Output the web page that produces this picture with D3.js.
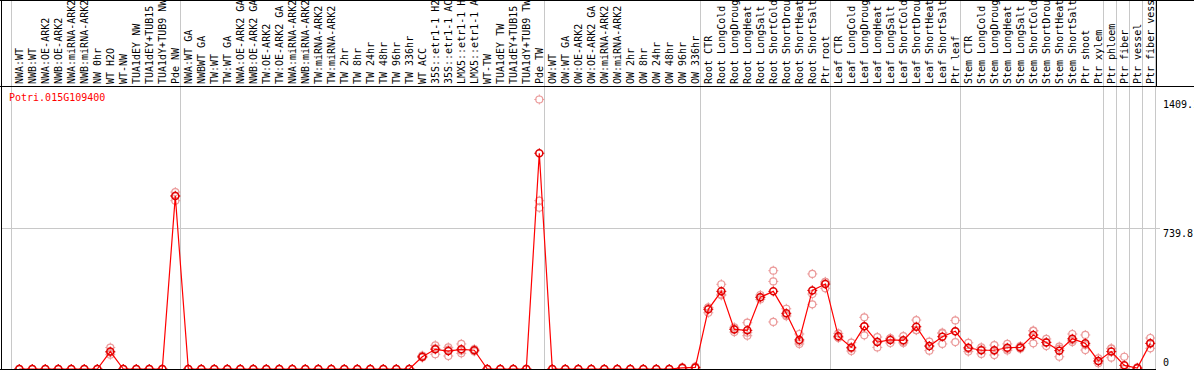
<!DOCTYPE html>
<html>
<head>
<meta charset="utf-8">
<script src="https://cdn.jsdelivr.net/npm/d3@7"></script>
<style>
	body { margin: 0; background: #fff; overflow: hidden; }
	text { font-family: "DejaVu Sans Mono", monospace; font-size: 10px; }
</style>
</head>
<body>
<div id="dataviz"></div>
<script>
const geneName = 'Potri.015G109400';

const categories = [
	'NWA:WT', 'NWB:WT', 'NWA:OE-ARK2', 'NWB:OE-ARK2', 'NWA:miRNA-ARK2', 'NWB:miRNA-ARK2',
	'NW 0hr', 'WT H2O', 'WT-NW', 'TUA1dEY NW', 'TUA1dEY+TUB15', 'TUA1dY+TUB9 NW', 'Pde NW',
	'NWA:WT GA', 'NWBWT GA', 'TW:WT', 'TW:WT GA', 'NWA:OE-ARK2 GA', 'NWB:OE-ARK2 GA',
	'TW:OE-ARK2', 'TW:OE-ARK2 GA', 'NWA:miRNA-ARK2', 'NWB:miRNA-ARK2', 'TW:miRNA-ARK2', 'TW:miRNA-ARK2',
	'TW 2hr', 'TW 8hr', 'TW 24hr', 'TW 48hr', 'TW 96hr', 'TW 336hr', 'WT ACC',
	'35S::etr1-1 H2', '35S::etr1-1 AC', 'LMX5::etr1-1 H', 'LMX5::etr1-1 A', 'WT-TW',
	'TUA1dEY TW', 'TUA1dEY+TUB15', 'TUA1dY+TUB9 TW', 'Pde TW',
	'OW:WT', 'OW:WT GA', 'OW:OE-ARK2', 'OW:OE-ARK2 GA', 'OW:miRNA-ARK2', 'OW:miRNA-ARK2',
	'OW 2hr', 'OW 8hr', 'OW 24hr', 'OW 48hr', 'OW 96hr', 'OW 336hr',
	'Root CTR', 'Root LongCold', 'Root LongDroug', 'Root LongHeat', 'Root LongSalt',
	'Root ShortCold', 'Root ShortDrou', 'Root ShortHeat', 'Root ShortSalt', 'Ptr root',
	'Leaf CTR', 'Leaf LongCold', 'Leaf LongDroug', 'Leaf LongHeat', 'Leaf LongSalt',
	'Leaf ShortCold', 'Leaf ShortDrou', 'Leaf ShortHeat', 'Leaf ShortSalt', 'Ptr leaf',
	'Stem CTR', 'Stem LongCold', 'Stem LongDroug', 'Stem LongHeat', 'Stem LongSalt',
	'Stem ShortCold', 'Stem ShortDrou', 'Stem ShortHeat', 'Stem ShortSalt', 'Ptr shoot',
	'Ptr xylem', 'Ptr phloem', 'Ptr fiber', 'Ptr vessel', 'Ptr fiber vess'
];

// index of the last column of each group (a grey separator follows it)
const groupEnds = [12, 40, 52, 62, 72, 83, 84, 85, 86, 87];

const meanValues = [
	0, 0, 0, 0, 0, 0, 0, 91, 0, 0, 0, 0, 904,
	0, 0, 0, 0, 0, 0, 0, 0, 0, 0, 0, 0, 0, 0, 0, 0, 0, 0,
	64, 103, 94, 103, 98, 0, 0, 0, 0, 1128,
	0, 0, 0, 0, 0, 0, 0, 0, 0, 0, 6, 8,
	312, 406, 207, 202, 375, 406, 291, 152, 411, 444,
	171, 113, 223, 141, 152, 150, 221, 120, 169, 197,
	111, 98, 98, 111, 113, 178, 139, 96, 158, 134,
	42, 91, 19, 5, 134
];

const replicates = [
	[0, 0, 0], [0, 0, 0], [0, 0, 0], [0, 0, 0], [0, 0, 0], [0, 0, 0], [0, 0, 0],
	[112, 86, 75], [0, 0, 0], [0, 0, 0], [0, 0, 0], [0, 0, 0], [925, 907, 880],
	[0, 0, 0], [0, 0, 0], [0, 0, 0], [0, 0, 0], [0, 0, 0], [0, 0, 0], [0, 0, 0], [0, 0, 0], [0, 0, 0],
	[0, 0, 0], [0, 0, 0], [0, 0, 0], [0, 0, 0], [0, 0, 0], [0, 0, 0], [0, 0, 0], [0, 0, 0], [0, 0, 0],
	[70, 62, 60], [124, 108, 77], [113, 101, 68], [131, 96, 82], [104, 98, 92],
	[0, 0, 0], [0, 0, 0], [0, 0, 0], [0, 0, 0], [1409.1, 880, 843],
	[0, 0, 0], [0, 0, 0], [0, 0, 0], [0, 0, 0], [0, 0, 0], [0, 0, 0], [0, 0, 0], [0, 0, 0], [0, 0, 0], [0, 0, 0],
	[8, 5, 5], [12, 6, 6],
	[322, 320, 294], [443, 390, 385], [218, 210, 193], [242, 190, 174], [387, 375, 364],
	[514, 458, 246], [315, 282, 276], [183, 142, 131], [497, 392, 338], [456, 454, 422],
	[186, 164, 163], [138, 107, 94], [270, 223, 176], [167, 143, 113], [160, 160, 136],
	[172, 142, 136], [256, 204, 203], [143, 120, 96], [190, 186, 131], [254, 197, 141],
	[137, 105, 91], [113, 102, 79], [125, 96, 73], [131, 105, 97], [120, 113, 106],
	[199, 201, 134], [157, 140, 120], [117, 107, 64], [183, 150, 141], [178, 125, 99],
	[56, 40, 30], [108, 106, 59], [64, 0, 0], [8, 4, 3], [162, 134, 108]
];

const yMax = 1479.6;
const yTicks = [0, 739.8, 1409.1];

window.onload = function() {

	const width = 1194;
	const height = 370;

	const labelBottom = 86;
	const plotBottom = 369;
	const plotRight = 1156;

	const svg = d3.select('#dataviz')
		.append('svg')
		.attr('width', width)
		.attr('height', height)

	const xScale = d3.scalePoint()
		.domain(d3.range(categories.length))
		.range([19.3, 19.3 + 13 * (categories.length - 1)])

	const yScale = d3.scaleLinear()
		.domain([0, yMax])
		.range([plotBottom, labelBottom])

	// horizontal grid line at the middle tick
	svg
		.append('line')
		.attr('x1', 2)
		.attr('x2', 1160)
		.attr('y1', Math.round(yScale(yTicks[1])) + 0.5)
		.attr('y2', Math.round(yScale(yTicks[1])) + 0.5)
		.attr('stroke', '#c8c8c8')

	// grey column separators
	const seps = [xScale(0) - 8.5].concat(groupEnds.map(i => xScale(i) + 5));
	svg
		.selectAll('line.sep')
		.data(seps)
		.enter()
		.append('line')
		.attr('class', 'sep')
		.attr('x1', d => Math.round(d) + 0.5)
		.attr('x2', d => Math.round(d) + 0.5)
		.attr('y1', 0)
		.attr('y2', plotBottom)
		.attr('stroke', '#c8c8c8')

	// frame
	svg.append('line')
		.attr('x1', 0).attr('x2', width)
		.attr('y1', 0.5).attr('y2', 0.5)
		.attr('stroke', '#000')
	svg.append('line')
		.attr('x1', 0).attr('x2', width)
		.attr('y1', labelBottom + 0.5).attr('y2', labelBottom + 0.5)
		.attr('stroke', '#000')
	svg.append('line')
		.attr('x1', 1.5).attr('x2', 1.5)
		.attr('y1', 0).attr('y2', plotBottom)
		.attr('stroke', '#000')
	svg.append('line')
		.attr('x1', 0).attr('x2', plotRight)
		.attr('y1', plotBottom + 0.5).attr('y2', plotBottom + 0.5)
		.attr('stroke', '#000')
	svg.append('line')
		.attr('x1', plotRight + 0.5).attr('x2', plotRight + 0.5)
		.attr('y1', 0).attr('y2', labelBottom)
		.attr('stroke', '#000')

	// column labels
	svg
		.selectAll('text.cat')
		.data(categories)
		.enter()
		.append('text')
		.attr('class', 'cat')
		.attr('transform', (d, i) => `translate(${xScale(i) + 3.6}, ${labelBottom - 2}) rotate(-90)`)
		.attr('fill', '#000')
		.text(d => d)

	// value labels on the right
	svg
		.selectAll('text.tick')
		.data(yTicks)
		.enter()
		.append('text')
		.attr('class', 'tick')
		.attr('x', 1163)
		.attr('y', d => Math.min(yScale(d) + 9, plotBottom - 3))
		.attr('fill', '#000')
		.text(d => d === 0 ? '0' : d3.format('.1f')(d))

	svg
		.append('text')
		.attr('x', 9)
		.attr('y', 100.5)
		.attr('fill', '#f00')
		.text(geneName)

	svg.append('clipPath')
		.attr('id', 'plotClip')
		.append('rect')
		.attr('x', 2)
		.attr('y', labelBottom + 1)
		.attr('width', plotRight)
		.attr('height', plotBottom - labelBottom - 1)

	const plot = svg.append('g').attr('clip-path', 'url(#plotClip)');

	const ticks = (x, y, r) =>
		`M${x - r - 1.5},${y}h2M${x + r - 0.5},${y}h2M${x},${y - r - 1.5}v2M${x},${y + r - 0.5}v2`;

	// replicate points
	const reps = [];
	replicates.forEach((vals, i) => vals.forEach(v => reps.push({ i: i, v: v })));

	plot
		.selectAll('g.rep')
		.data(reps)
		.enter()
		.append('g')
		.attr('class', 'rep')
		.each(function(d) {
			const g = d3.select(this);
			const cx = xScale(d.i);
			const cy = yScale(d.v);
			g.append('circle')
				.attr('cx', cx).attr('cy', cy).attr('r', 3.5)
				.attr('fill', 'none')
				.attr('stroke', '#eb9a9a')
				.attr('stroke-width', 1.2)
			g.append('path')
				.attr('d', ticks(cx, cy, 3.5))
				.attr('stroke', '#eb9a9a')
				.attr('stroke-width', 1)
		})

	// mean line
	const line = d3.line()
		.x((d, i) => xScale(i))
		.y(d => yScale(d))

	plot
		.append('path')
		.datum(meanValues)
		.attr('d', line)
		.attr('fill', 'none')
		.attr('stroke', '#f00')
		.attr('stroke-width', 1.2)

	plot
		.selectAll('g.mean')
		.data(meanValues)
		.enter()
		.append('g')
		.attr('class', 'mean')
		.each(function(d, i) {
			const g = d3.select(this);
			const cx = xScale(i);
			const cy = yScale(d);
			g.append('circle')
				.attr('cx', cx).attr('cy', cy).attr('r', 3.5)
				.attr('fill', 'none')
				.attr('stroke', '#e00000')
				.attr('stroke-width', 1.5)
			g.append('path')
				.attr('d', ticks(cx, cy, 3.5))
				.attr('stroke', '#e00000')
				.attr('stroke-width', 1)
		})
}
</script>
</body>
</html>
